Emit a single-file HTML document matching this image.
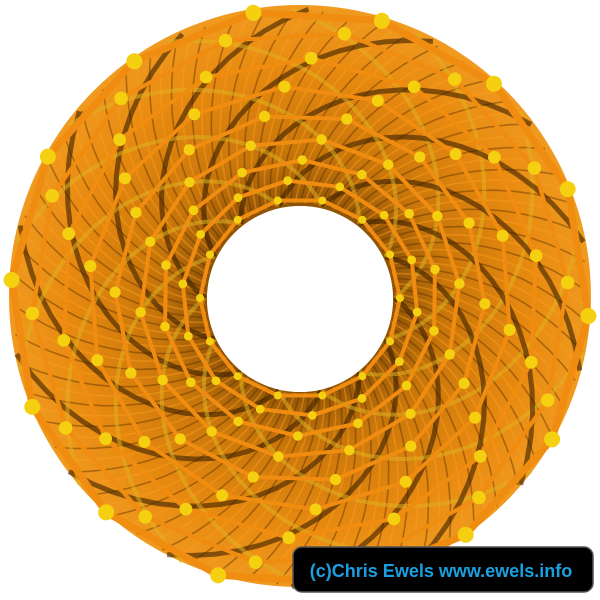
<!DOCTYPE html>
<html><head><meta charset="utf-8"><style>
html,body{margin:0;padding:0;background:#fff;width:600px;height:600px;overflow:hidden}
svg{display:block}
</style></head><body>
<svg id="tube" width="600" height="600" viewBox="0 0 600 600" xmlns="http://www.w3.org/2000/svg">
<defs>
<radialGradient id="rg" cx="300" cy="298" r="292" gradientUnits="userSpaceOnUse">
<stop offset="0.3" stop-color="#8a5005"/>
<stop offset="0.5" stop-color="#c8760a"/>
<stop offset="0.8" stop-color="#e88a10"/>
<stop offset="1" stop-color="#f09a20"/>
</radialGradient>
</defs>
<path fill="url(#rg)" fill-rule="evenodd"
 d="M300,5 A291,291 0 1,1 299.9,5 Z M300,206 A93,93 0 1,0 300.1,206 Z"/>
<g id="fine"></g>
<g id="spirals"></g>
<g id="atoms"></g>
<circle cx="300" cy="299" r="93" fill="#fff"/>
<rect x="293" y="547" width="300" height="45" rx="9" fill="#000" stroke="#555" stroke-width="1.5"/>
<text x="441" y="577" text-anchor="middle" font-family="Liberation Sans, sans-serif" font-weight="bold" font-size="18" fill="#1aa0e0">(c)Chris Ewels www.ewels.info</text>
</svg>
<script>
const NS='http://www.w3.org/2000/svg';
const cx=300, cy=298;
const ringRadii=[100,118,138,160,185,212,240,268,289];
const spiralCount=[14];
const fineCount=[120];
const sp=document.getElementById('spirals');
const fn=document.getElementById('fine');
const at=document.getElementById('atoms');
// fine bond texture
for(let k=0;k<fineCount[0];k++){
  let d='';
  for(let i=0;i<=12;i++){
    const t=i/12;
    const r=95+t*192;
    const a=k*2*Math.PI/fineCount[0]+t*0.5;
    d+=(i?'L':'M')+(cx+r*Math.cos(a)).toFixed(1)+','+(cy+r*Math.sin(a)).toFixed(1);
  }
  const p=document.createElementNS(NS,'path');
  
  
  p.setAttribute('d',d);
  p.setAttribute('fill','none');
  p.setAttribute('stroke',k%2?'#ffa020':'#5a3000');
  p.setAttribute('stroke-width',1.6);
  p.setAttribute('opacity',0.45);
  fn.appendChild(p);
}
// spiral strands
for(let k=0;k<spiralCount[0];k++){
  for(const dir of [1,-1]){
    let d='';
    for(let i=0;i<=20;i++){
      const t=i/20;
      const r=95+t*194;
      const a=k*2*Math.PI/spiralCount[0]+dir*t*1.6;
      d+=(i?'L':'M')+(cx+r*Math.cos(a)).toFixed(1)+','+(cy+r*Math.sin(a)).toFixed(1);
    }
    const p=document.createElementNS(NS,'path');
    
    
    p.setAttribute('d',d);
    p.setAttribute('fill','none');
    p.setAttribute('stroke',dir>0?'#3a2000':'#e0b020');
    p.setAttribute('stroke-width',dir>0?5:4);
    p.setAttribute('opacity',dir>0?0.6:0.55);
    sp.appendChild(p);
  }
}
// rings of bonds with atoms
ringRadii.forEach((r,ri)=>{
  const n=14;
  const pts=[];
  for(let i=0;i<n;i++){
    const a=i*2*Math.PI/n+ri*0.12;
    pts.push([cx+r*Math.cos(a),cy+r*Math.sin(a)]);
  }
  const pg=document.createElementNS(NS,'polygon');
  
  
  pg.setAttribute('points',pts.map(p=>p.map(v=>v.toFixed(1)).join(',')).join(' '));
  pg.setAttribute('fill','none');
  pg.setAttribute('stroke','#f08c10');
  pg.setAttribute('stroke-width',ri===ringRadii.length-1?7:4);
  sp.appendChild(pg);
  pts.forEach(p=>{
    const c=document.createElementNS(NS,'circle');
    
    
    c.setAttribute('cx',p[0].toFixed(1));
    c.setAttribute('cy',p[1].toFixed(1));
    c.setAttribute('r',ri===ringRadii.length-1?8:4+ri*0.4);
    c.setAttribute('fill','#f5d010');
    at.appendChild(c);
  });
});
</script>
</body></html>
